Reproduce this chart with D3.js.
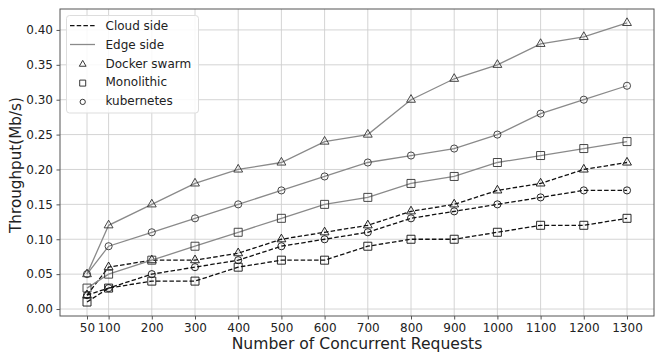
<!DOCTYPE html>
<html><head><meta charset="utf-8">
<script src="https://cdn.jsdelivr.net/npm/d3@7"></script>
<style>body{margin:0;background:#fff}svg{display:block}text{font-family:"DejaVu Sans",sans-serif;fill:#222}</style>
</head><body><svg id="c" width="664" height="358"></svg>
<script>
const requests = [50,100,200,300,400,500,600,700,800,900,1000,1100,1200,1300];
const xTicks = [50,100,200,300,400,500,600,700,800,900,1000,1100,1200,1300];
const yTicks = [0,0.05,0.10,0.15,0.20,0.25,0.30,0.35,0.40];
const edgeDocker = [0.05,0.12,0.15,0.18,0.20,0.21,0.24,0.25,0.30,0.33,0.35,0.38,0.39,0.41];
const edgeKube   = [0.05,0.09,0.11,0.13,0.15,0.17,0.19,0.21,0.22,0.23,0.25,0.28,0.30,0.32];
const edgeMono   = [0.03,0.05,0.07,0.09,0.11,0.13,0.15,0.16,0.18,0.19,0.21,0.22,0.23,0.24];
const cloudDocker= [0.02,0.06,0.07,0.07,0.08,0.10,0.11,0.12,0.14,0.15,0.17,0.18,0.20,0.21];
const cloudKube  = [0.02,0.03,0.05,0.06,0.07,0.09,0.10,0.11,0.13,0.14,0.15,0.16,0.17,0.17];
const cloudMono  = [0.01,0.03,0.04,0.04,0.06,0.07,0.07,0.09,0.10,0.10,0.11,0.12,0.12,0.13];

const series = [
  {v:cloudDocker, side:"cloud", m:"tri"},
  {v:cloudMono, side:"cloud", m:"sq"},
  {v:cloudKube, side:"cloud", m:"circ"},
  {v:edgeDocker, side:"edge", m:"tri"},
  {v:edgeMono, side:"edge", m:"sq"},
  {v:edgeKube, side:"edge", m:"circ"}
];

const L=60,R=654,T=9,B=316;
const svg=d3.select("#c");
const x=d3.scaleLinear().domain([-12.5,1362.5]).range([L,R]);
const y=d3.scaleLinear().domain([-0.01,0.43]).range([B,T]);

// grid
const g=svg.append("g");
g.selectAll("line.gx").data(xTicks).join("line").attr("x1",d=>x(d)).attr("x2",d=>x(d)).attr("y1",T).attr("y2",B).attr("stroke","#cfcfcf").attr("stroke-width",0.9);
g.selectAll("line.gy").data(yTicks).join("line").attr("y1",d=>y(d)).attr("y2",d=>y(d)).attr("x1",L).attr("x2",R).attr("stroke","#cfcfcf").attr("stroke-width",0.9);

// axes
const xa=svg.append("g").attr("transform",`translate(0,${B})`).call(d3.axisBottom(x).tickValues(xTicks).tickSize(3.5).tickPadding(3.5).tickFormat(d3.format("d")));
const ya=svg.append("g").attr("transform",`translate(${L},0)`).call(d3.axisLeft(y).tickValues(yTicks).tickSize(3.5).tickPadding(3.5).tickFormat(d3.format(".2f")));
[xa,ya].forEach(a=>{a.select(".domain").remove();a.selectAll("text").attr("font-size",12).attr("font-family","DejaVu Sans").attr("fill","#222");a.selectAll("line").attr("stroke","#555");});

// lines
const line=d3.line().x((d,i)=>x(requests[i])).y(d=>y(d));
const sym={tri:d3.symbol(d3.symbolTriangle,34),sq:d3.symbol(d3.symbolSquare,64),circ:d3.symbol(d3.symbolCircle,40)};
series.forEach(s=>{
  const col=s.side==="cloud"?"#111":"#8a8a8a";
  svg.append("path").attr("d",line(s.v)).attr("fill","none").attr("stroke",col).attr("stroke-width",s.side==="cloud"?1.3:1.3).attr("stroke-dasharray",s.side==="cloud"?"4.5,2.2":null);
  svg.append("g").selectAll("path").data(s.v).join("path").attr("d",sym[s.m]()).attr("transform",(d,i)=>`translate(${x(requests[i])},${y(d)})`).attr("fill","none").attr("stroke",s.side==="cloud"?"#111":"#333").attr("stroke-width",0.9);
});

// frame
svg.append("rect").attr("x",L).attr("y",T).attr("width",R-L).attr("height",B-T).attr("fill","none").attr("stroke","#555").attr("stroke-width",1);

// legend
const lg=svg.append("g");
lg.append("rect").attr("x",66.5).attr("y",15.5).attr("width",132).attr("height",97.5).attr("rx",3).attr("fill","rgba(255,255,255,0.85)").attr("stroke","#ddd");
const items=[{t:"Cloud side",k:"cloud"},{t:"Edge side",k:"edge"},{t:"Docker swarm",k:"tri"},{t:"Monolithic",k:"sq"},{t:"kubernetes",k:"circ"}];
items.forEach((it,i)=>{
  const yy=25.7+i*18.8;
  if(it.k==="cloud") lg.append("line").attr("x1",70).attr("x2",95).attr("y1",yy).attr("y2",yy).attr("stroke","#111").attr("stroke-width",1.3).attr("stroke-dasharray","4.5,2.2");
  else if(it.k==="edge") lg.append("line").attr("x1",70).attr("x2",95).attr("y1",yy).attr("y2",yy).attr("stroke","#8a8a8a").attr("stroke-width",1.3);
  else {
    const sm={tri:d3.symbol(d3.symbolTriangle,20),sq:d3.symbol(d3.symbolSquare,36),circ:d3.symbol(d3.symbolCircle,22)};
    lg.append("path").attr("d",sm[it.k]()).attr("transform",`translate(82.7,${yy+1})`).attr("fill","none").attr("stroke","#222").attr("stroke-width",0.9);
  }
  lg.append("text").attr("x",105.5).attr("y",yy).attr("dy","0.36em").attr("font-size",12).text(it.t);
});

// titles
svg.append("text").attr("x",(L+R)/2).attr("y",349).attr("text-anchor","middle").attr("font-size",15.6).text("Number of Concurrent Requests");
svg.append("text").attr("transform","translate(21,165) rotate(-90)").attr("text-anchor","middle").attr("font-size",15.2).text("Throughput(Mb/s)");
</script></body></html>
